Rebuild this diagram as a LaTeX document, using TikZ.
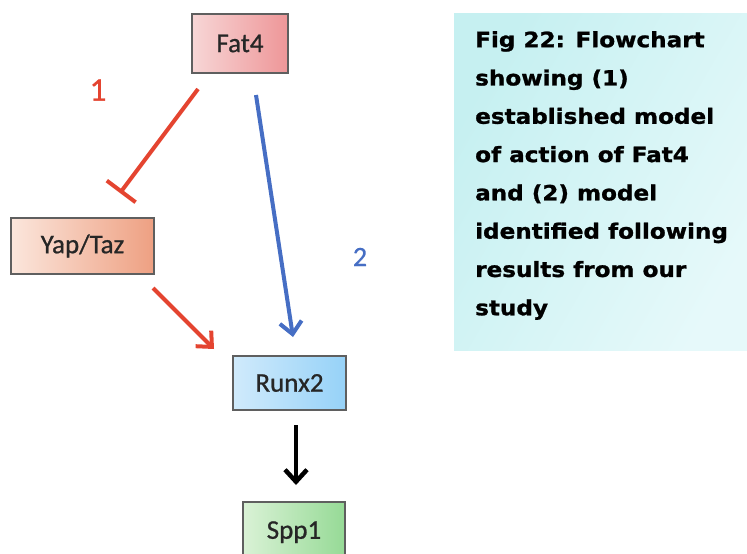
\documentclass[tikz,border=0pt]{standalone}
\usepackage{fontspec}
\usetikzlibrary{arrows.meta,calc}
\newfontfamily\boxfont[FakeBold=0.8]{Carlito}
\newfontfamily\capfont[FakeStretch=1.1,BoldFeatures={FakeBold=1.2}]{DejaVu Sans}
\definecolor{myred}{RGB}{228,68,48}
\definecolor{myblue}{RGB}{70,110,196}
\definecolor{bord}{RGB}{95,95,95}
\definecolor{fatL}{RGB}{247,214,214}
\definecolor{fatR}{RGB}{238,150,152}
\definecolor{yapL}{RGB}{251,230,220}
\definecolor{yapR}{RGB}{238,160,130}
\definecolor{runL}{RGB}{208,234,251}
\definecolor{runR}{RGB}{150,210,248}
\definecolor{sppL}{RGB}{218,242,214}
\definecolor{sppR}{RGB}{150,218,150}
\definecolor{capL}{RGB}{198,240,241}
\definecolor{capR}{RGB}{230,249,250}
\tikzset{
  genebox/.style={draw=bord, line width=1.2pt, rectangle, inner sep=0pt,
    font=\boxfont\fontsize{27}{30}\selectfont, text=black!85},
  inhib/.style={draw=myred, line width=4pt, -{Bar[width=36pt,line width=4pt]}},
  act/.style={line width=4pt, -{Straight Barb[length=12pt,width=22pt]}},
  numlabel/.style={font=\boxfont\fontsize{33}{36}\selectfont, inner sep=0pt},
}
\begin{document}
\begin{tikzpicture}[x=1pt,y=-1pt]
\useasboundingbox (0,0) rectangle (747,554);
\clip (0,0) rectangle (747,554);
% caption panel
\node[rectangle, inner sep=0pt, minimum width=300pt, minimum height=337pt, anchor=north west,
  shading=axis, left color=capL, right color=capR, shading angle=60] (cap) at (454,13) {};
\node[anchor=north west, inner sep=0pt, align=left,
  font=\capfont\bfseries\fontsize{21}{38.3}\selectfont] (captext) at (475,31)
  {Fig 22: Flowchart\\showing (1)\\established model\\of action of Fat4\\and (2) model\\identified following\\results from our\\study};
% boxes
\node[genebox, minimum width=96pt, minimum height=59pt, left color=fatL, right color=fatR] (fat) at (240,43.5) {Fat4};
\node[genebox, minimum width=143pt, minimum height=56pt, left color=yapL, right color=yapR] (yap) at (82.5,246) {Yap/Taz};
\node[genebox, minimum width=113pt, minimum height=54pt, left color=runL, right color=runR] (run) at (289.5,383) {Runx2};
\node[genebox, minimum width=102pt, minimum height=56pt, left color=sppL, right color=sppR, text depth=0pt] (spp) at (294,530) {Spp1};
% connector ends
\coordinate (i1) at (198,89);
\coordinate (i2) at (120,193);
\coordinate (r1) at (153,288);
\coordinate (r2) at (214,349);
\coordinate (b1) at (256,95);
\coordinate (b2) at (293,337);
\coordinate (k1) at (296,425);
\coordinate (k2) at (296,485);
\draw[inhib] (i1) -- (i2);
\draw[act, draw=myred] (r1) -- (r2);
\draw[act, draw=myblue] (b1) -- (b2);
\draw[act, draw=black, line width=4.5pt] (k1) -- (k2);
% labels
\node[numlabel, text=myred] (n1) at (98,90) {1};
\node[numlabel, text=myblue, font=\boxfont\fontsize{28}{30}\selectfont] (n2) at (360,257) {2};
\end{tikzpicture}
\end{document}
